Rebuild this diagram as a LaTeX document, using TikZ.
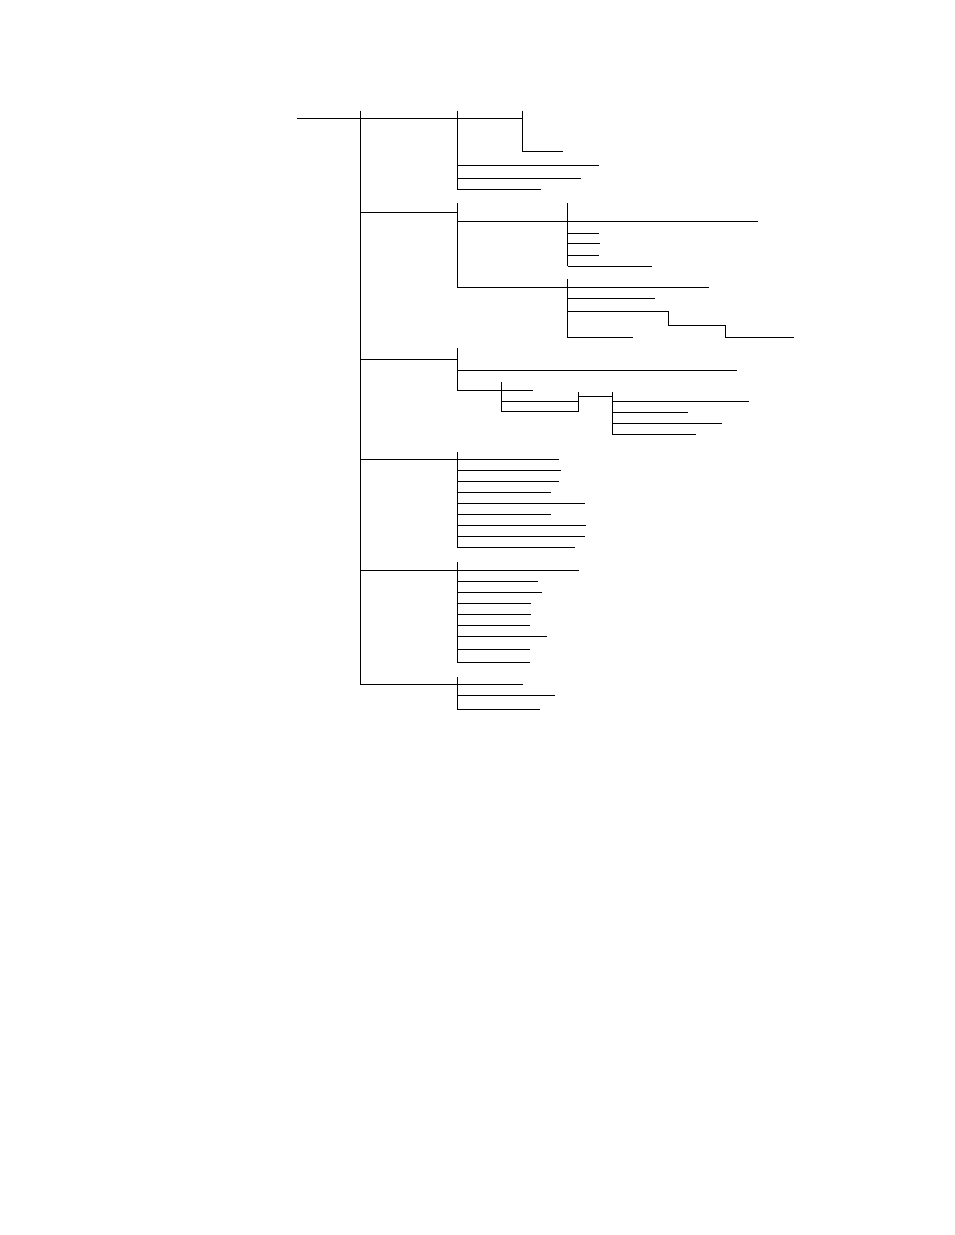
\documentclass[tikz,border=0pt]{standalone}
\begin{document}
\begin{tikzpicture}[x=1pt,y=-1pt]
\tikzset{branch/.style={line width=0.9pt, line cap=butt, line join=miter}}
\useasboundingbox (0,0) rectangle (954,1235);
% root
\coordinate (root) at (297,118);
\coordinate (r0) at (360,110.7);
\coordinate (r1) at (360,684.3);
\draw[branch] (root) -- (360,118);
\draw[branch] (r0) -- (r1);
\foreach \y in {118,212,359,459,570.3,684.3} \draw[branch] (360,\y) -- (457.3,\y);
% group A
\draw[branch] (457.3,110.7) -- (457.3,189);
\draw[branch] (457.3,118) -- (522,118);
\draw[branch] (522,110.7) -- (522,151) -- (563,151);
\draw[branch] (457.3,165.7) -- (599.3,165.7);
\draw[branch] (457.3,178.3) -- (580.7,178.3);
\draw[branch] (457.3,189) -- (540.7,189);
% group B
\draw[branch] (457.3,203.3) -- (457.3,287.3);
\draw[branch] (457.3,221) -- (758.3,221);
\draw[branch] (567.7,203.3) -- (567.7,266);
\draw[branch] (567.7,233.3) -- (599,233.3);
\draw[branch] (567.7,243.3) -- (600,243.3);
\draw[branch] (567.7,255) -- (599,255);
\draw[branch] (567.7,266) -- (651.7,266);
\draw[branch] (457.3,287.3) -- (709.3,287.3);
\draw[branch] (567.7,279.3) -- (567.7,337.7);
\draw[branch] (567.7,298.3) -- (655,298.3);
\draw[branch] (567.7,311.3) -- (668.7,311.3) -- (668.7,325) -- (725.7,325) -- (725.7,337.7) -- (794.3,337.7);
\draw[branch] (567.7,337.7) -- (633.3,337.7);
% group C
\draw[branch] (457.3,348.3) -- (457.3,390);
\draw[branch] (457.3,370) -- (736.7,370);
\draw[branch] (457.3,390) -- (532.7,390);
\draw[branch] (501.7,382.3) -- (501.7,411.7);
\draw[branch] (501.7,401) -- (578.3,401);
\draw[branch] (501.7,411.7) -- (578.3,411.7);
\draw[branch] (578.3,392.3) -- (578.3,411.7);
\draw[branch] (578.3,396.7) -- (612.3,396.7);
\draw[branch] (612.3,392.3) -- (612.3,434.3);
\draw[branch] (612.3,401) -- (749.3,401);
\draw[branch] (612.3,412) -- (688,412);
\draw[branch] (612.3,423) -- (722,423);
\draw[branch] (612.3,434.3) -- (696,434.3);
% group D
\draw[branch] (457.3,451.7) -- (457.3,547.3);
\draw[branch] (457.3,459) -- (559,459);
\draw[branch] (457.3,470) -- (561,470);
\draw[branch] (457.3,481) -- (559,481);
\draw[branch] (457.3,492.3) -- (551,492.3);
\draw[branch] (457.3,503.3) -- (585,503.3);
\draw[branch] (457.3,514.3) -- (551,514.3);
\draw[branch] (457.3,525.3) -- (586,525.3);
\draw[branch] (457.3,536) -- (585,536);
\draw[branch] (457.3,547.3) -- (575,547.3);
% group E
\draw[branch] (457.3,562.3) -- (457.3,662);
\draw[branch] (457.3,570.3) -- (579,570.3);
\draw[branch] (457.3,581.3) -- (538,581.3);
\draw[branch] (457.3,592.3) -- (542,592.3);
\draw[branch] (457.3,603.3) -- (531,603.3);
\draw[branch] (457.3,614) -- (531,614);
\draw[branch] (457.3,625.3) -- (530,625.3);
\draw[branch] (457.3,636.3) -- (547,636.3);
\draw[branch] (457.3,649.3) -- (530,649.3);
\draw[branch] (457.3,662) -- (530,662);
% group F
\draw[branch] (457.3,677.3) -- (457.3,709.3);
\draw[branch] (457.3,684.3) -- (523,684.3);
\draw[branch] (457.3,695.3) -- (555,695.3);
\draw[branch] (457.3,709.3) -- (540,709.3);
\end{tikzpicture}
\end{document}
